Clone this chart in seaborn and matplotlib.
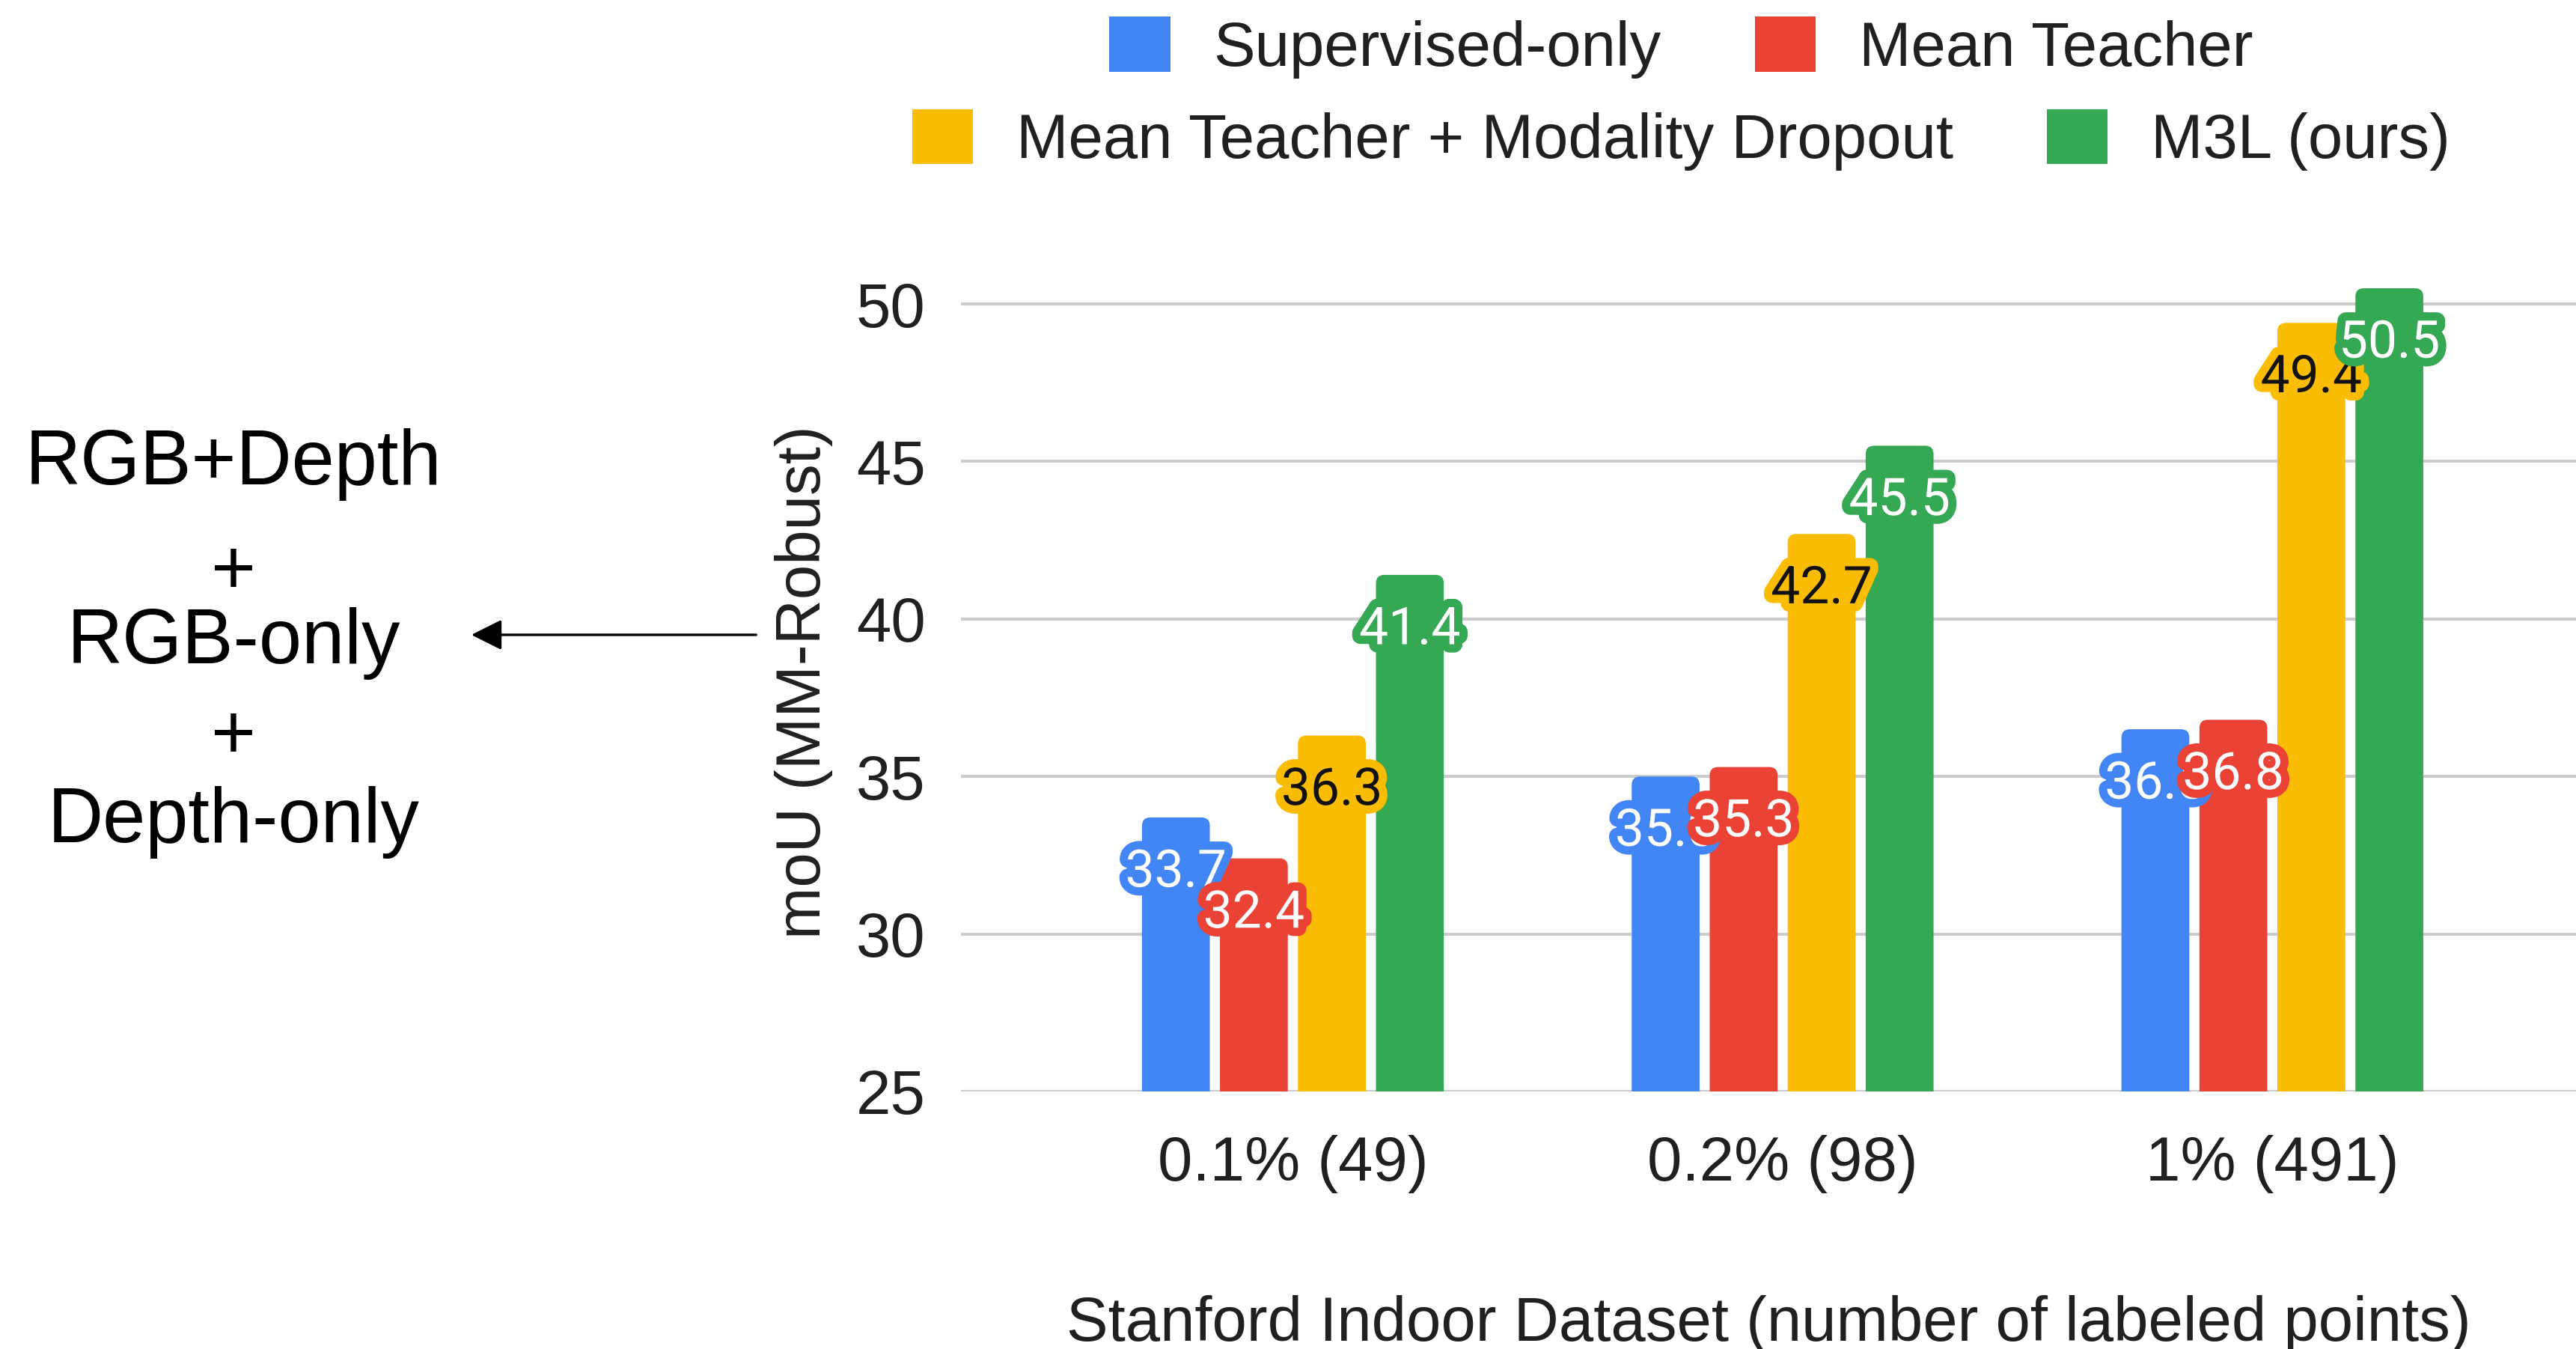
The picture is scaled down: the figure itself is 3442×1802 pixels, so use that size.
import matplotlib
matplotlib.use("Agg")
import matplotlib.pyplot as plt
import matplotlib.patheffects as pe
from matplotlib.patches import FancyBboxPatch, Patch, FancyArrowPatch
import numpy as np
import pandas as pd
import seaborn as sns

# ---- data -------------------------------------------------------------
splits = ["0.1% (49)", "0.2% (98)", "1% (491)"]
methods = ["Supervised-only", "Mean Teacher",
           "Mean Teacher + Modality Dropout", "M3L (ours)"]
supervised_only = [33.7, 35.0, 36.5]
mean_teacher = [32.4, 35.3, 36.8]
mt_modality_dropout = [36.3, 42.7, 49.4]
m3l_ours = [41.4, 45.5, 50.5]
y_ticks = [25, 30, 35, 40, 45, 50]

colors = ["#4285F4", "#EA4335", "#FBBC04", "#34A853"]
label_colors = ["white", "white", "#111111", "white"]

series = [supervised_only, mean_teacher, mt_modality_dropout, m3l_ours]
df = pd.DataFrame({
    "split": np.tile(splits, len(methods)),
    "method": np.repeat(methods, len(splits)),
    "miou": np.concatenate(series),
})

# ---- figure -----------------------------------------------------------
sns.set_theme(style="white")
plt.rcParams["font.family"] = ["Liberation Sans", "DejaVu Sans"]
TXT = "#202020"

fig = plt.figure(figsize=(34.42, 18.02), dpi=100)
ax = fig.add_axes([0.373, 0.1909, 0.627, 0.6071])

sns.barplot(data=df, x="split", y="miou", hue="method", order=splits,
            hue_order=methods, palette=colors, width=0.637, gap=0.13,
            legend=False, ax=ax, saturation=1)

ax.set_ylim(25, 51)
ax.set_xlim(-0.678, 2.62)
ax.set_yticks(y_ticks)
ax.set_yticklabels([str(t) for t in y_ticks])
for s in ax.spines.values():
    s.set_visible(False)
ax.yaxis.grid(True, color="#cccccc", linewidth=3.0)
ax.set_axisbelow(True)
ax.tick_params(axis="y", length=0, pad=34, labelsize=60, labelcolor=TXT)
ax.tick_params(axis="x", length=0, pad=42, labelsize=60, labelcolor=TXT)
ax.set_xlabel("Stanford Indoor Dataset (number of labeled points)",
              fontsize=60, color=TXT, labelpad=98)
ax.set_ylabel("moU (MM-Robust)", fontsize=60, color=TXT, labelpad=22)

# rounded-top bars replacing the plain rectangles
x_px_per_unit = ax.bbox.width / (ax.get_xlim()[1] - ax.get_xlim()[0])
y_px_per_unit = ax.bbox.height / (ax.get_ylim()[1] - ax.get_ylim()[0])
aspect = x_px_per_unit / y_px_per_unit
radius_px = 11
for ci, cont in enumerate(ax.containers):
    for bar, val in zip(cont, series[ci]):
        x0, w, h = bar.get_x(), bar.get_width(), bar.get_height()
        bar.set_visible(False)
        fb = FancyBboxPatch((x0, 0), w, h,
                            boxstyle=f"round,pad=0,rounding_size={radius_px / x_px_per_unit}",
                            mutation_aspect=aspect,
                            facecolor=colors[ci], edgecolor="none", zorder=2)
        ax.add_patch(fb)
        ax.text(x0 + w / 2, val - 1.75, f"{val:.1f}", ha="center", va="center",
                fontsize=50, family="Roboto", color=label_colors[ci], zorder=4,
                path_effects=[pe.Stroke(linewidth=16, foreground=colors[ci]),
                              pe.Normal()])

# legend rows
rows = [[0, 1], [2, 3]]
row_y = [0.9647, 0.8964]
for r, yy in zip(rows, row_y):
    handles = [Patch(facecolor=colors[i], edgecolor="none", label=methods[i]) for i in r]
    leg = fig.legend(handles=handles, loc="center", bbox_to_anchor=(0.6526, yy),
                     ncol=2, frameon=False, fontsize=60, handlelength=0.98,
                     handleheight=0.98, handletextpad=0.69, columnspacing=1.5,
                     borderpad=0, borderaxespad=0)
    for t in leg.get_texts():
        t.set_color(TXT)

# modality annotation on the left
H = 1802.0
cx = 312 / 3442
fig.text(cx, 1 - 647 / H, "RGB+Depth", ha="center", va="baseline", fontsize=74, color="black")
fig.text(cx, 1 - 756 / H, "+", ha="center", va="center_baseline", fontsize=74, color="black")
fig.text(cx, 1 - 886 / H, "RGB-only", ha="center", va="baseline", fontsize=74, color="black")
fig.text(cx, 1 - 975 / H, "+", ha="center", va="center_baseline", fontsize=74, color="black")
fig.text(cx, 1 - 1125 / H, "Depth-only", ha="center", va="baseline", fontsize=74, color="black")
fig.patches.append(FancyArrowPatch(
    (1013 / 3442, 1 - 848 / H), (627 / 3442, 1 - 848 / H),
    transform=fig.transFigure, arrowstyle="-|>,head_length=1.8,head_width=0.9",
    mutation_scale=14, linewidth=2.4, color="black"))

fig.savefig("out.png", dpi=100)
